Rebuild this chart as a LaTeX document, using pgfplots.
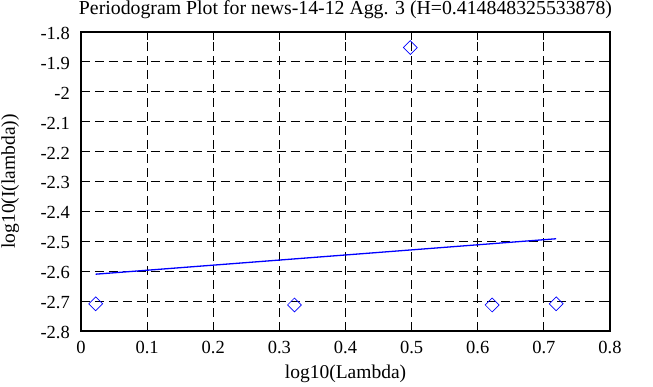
\documentclass[border=0pt]{standalone}
\usepackage{pgfplots}
\pgfplotsset{compat=1.18}
\usepackage{fontspec}
\setmainfont{Liberation Serif}
\begin{document}
\begin{tikzpicture}[x=1pt,y=1pt]
\path[use as bounding box] (-81pt,-56pt) rectangle (572pt,331pt);
\begin{axis}[
  at={(0,0)}, anchor=south west,
  scale only axis, width=529pt, height=299pt,
  xmin=0, xmax=0.8, ymin=-2.8, ymax=-1.8,
  xtick={0,0.1,...,0.8},
  ytick={-2.8,-2.7,...,-1.8},
  /pgf/number format/assume math mode=true,
  /pgf/number format/fixed,
  /pgf/number format/precision=2,
  tick label style={font=\fontsize{18.5}{18.5}\selectfont},
  label style={font=\fontsize{19.5}{19.5}\selectfont},
  title style={font=\fontsize{19.8}{19.8}\selectfont, at={(axis description cs:0.5,1)}, anchor=base, yshift=11pt},
  title={Periodogram Plot for news-14-12 Agg. 3 (H=0.414848325533878)},
  xlabel={log10(Lambda)},
  ylabel={log10(I(lambda))},
  xlabel style={at={(axis description cs:0.5,0)}, anchor=base, yshift=-48pt},
  ylabel style={at={(axis description cs:-0.134,0.5)}, anchor=center},
  yticklabel style={anchor=east, inner sep=0pt, xshift=-11pt, yshift=-1.5pt},
  xticklabel style={anchor=base, inner sep=0pt, yshift=-23pt},
  tick align=inside,
  major tick length=8pt,
  tick style={black, line width=1pt},
  axis line style={line width=1.8pt},
  grid=major,
  major grid style={black, line width=0.8pt, dash pattern=on 9pt off 5pt},
]
\addplot[blue, line width=1.3pt] coordinates {(0.0222,-2.610) (0.7186,-2.4915)};
\addplot[only marks, blue, mark=square, mark size=4.9pt, mark options={rotate=45, line width=0.7pt}] coordinates {
(0.0222,-2.709) (0.3228,-2.713) (0.498,-1.852) (0.6218,-2.713) (0.7186,-2.709)};
\end{axis}
\end{tikzpicture}
\end{document}
